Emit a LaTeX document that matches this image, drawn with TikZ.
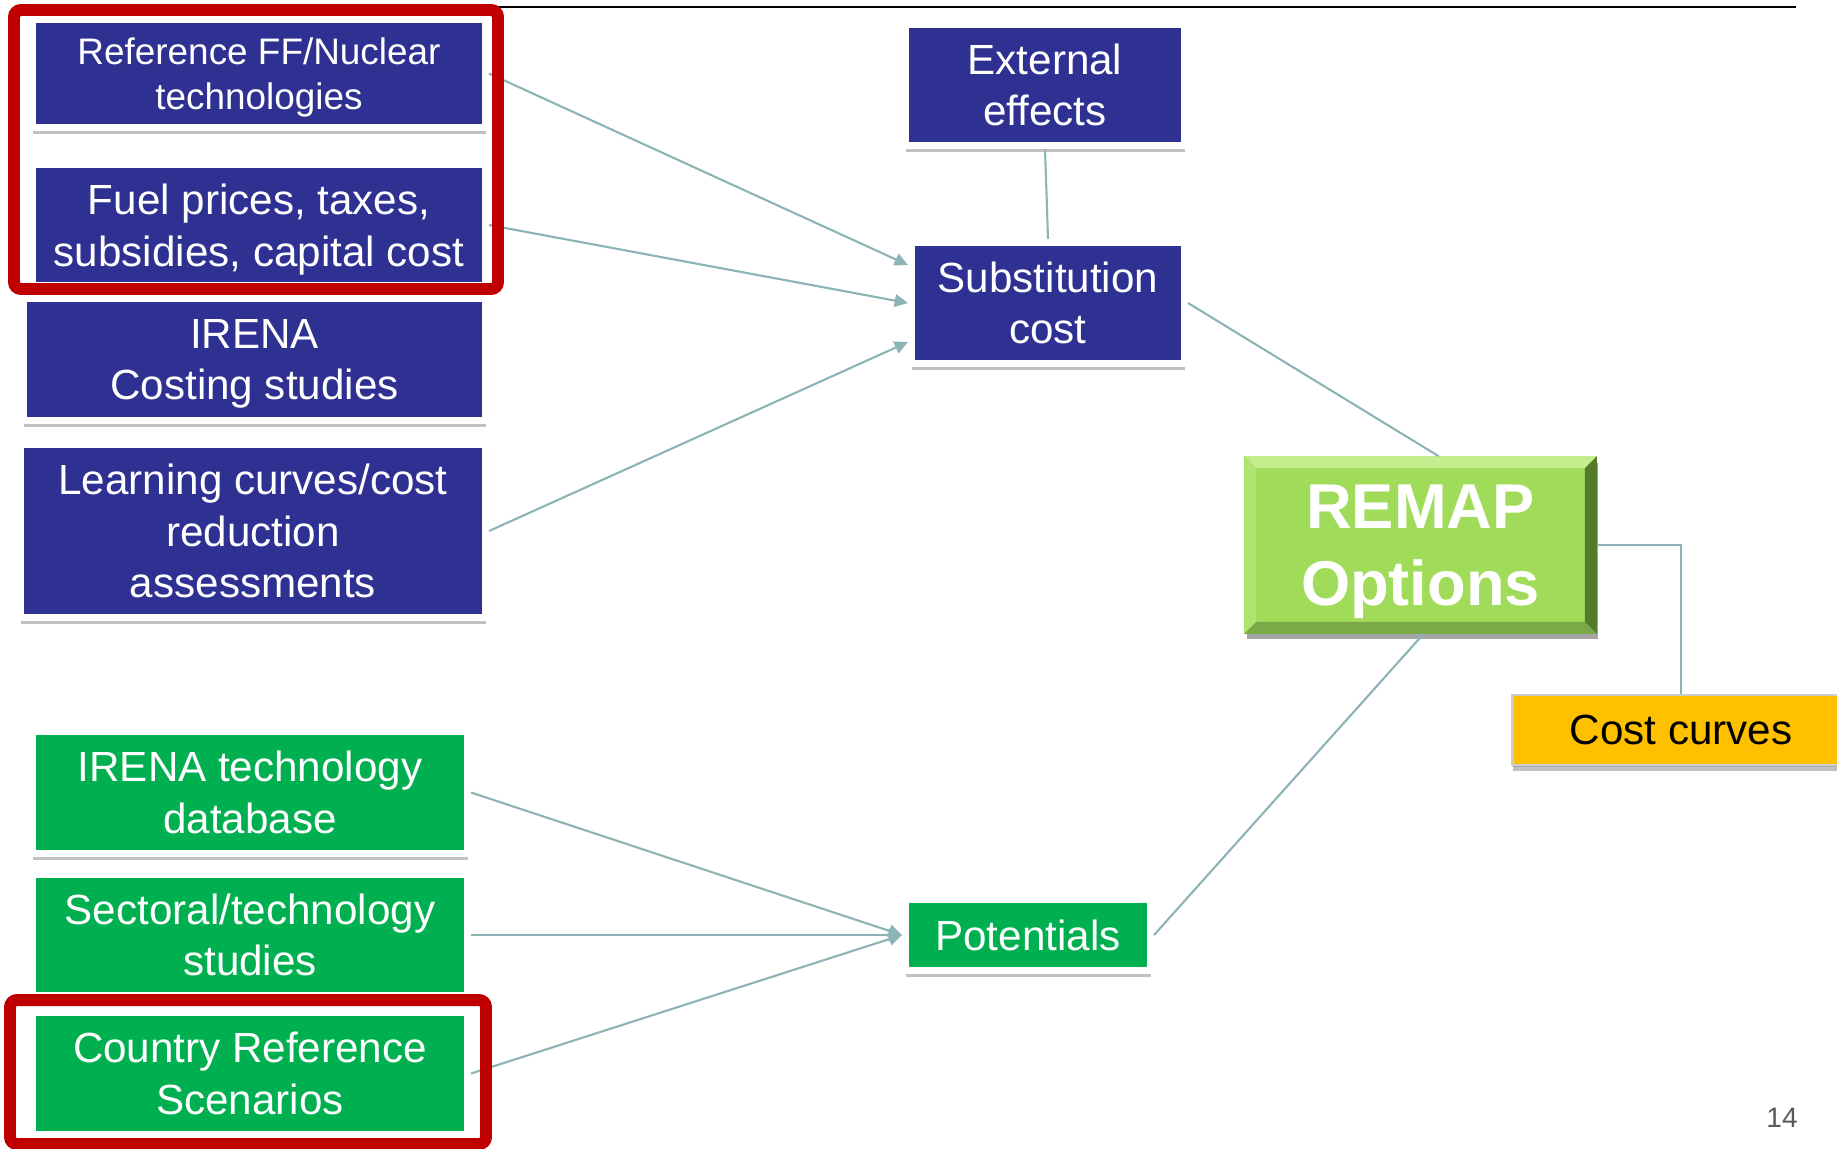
\documentclass[tikz,border=0pt]{standalone}
\usepackage{fontspec}
\setmainfont{Liberation Sans}
\usetikzlibrary{arrows.meta,shadows}

\definecolor{irenablue}{RGB}{46,49,146}
\definecolor{irenagreen}{RGB}{0,176,80}
\definecolor{remapgreen}{RGB}{160,220,90}
\definecolor{remaplight}{RGB}{196,238,142}
\definecolor{remapleft}{RGB}{176,228,112}
\definecolor{remapdark}{RGB}{122,170,72}
\definecolor{remapright}{RGB}{84,122,46}
\definecolor{costyellow}{RGB}{255,192,0}
\definecolor{framered}{RGB}{192,0,0}
\definecolor{linkgray}{RGB}{140,180,182}
\definecolor{pagegray}{RGB}{89,89,89}

\newcommand{\nodepth}[1]{\raisebox{0pt}[\height][0pt]{#1}}

\tikzset{
  box/.style={draw=white,line width=2pt,text=white,align=center,inner sep=0pt,
    font=\fontsize{12}{14.7}\selectfont,
    drop shadow={shadow xshift=0.2pt,shadow yshift=-1.8pt,opacity=0.35,fill=black!70},
    drop shadow={shadow xshift=0pt,shadow yshift=-0.4pt,shadow scale=1.006,opacity=0.18,fill=black!70}},
  bluebox/.style={box,fill=irenablue},
  greenbox/.style={box,fill=irenagreen},
  costbox/.style={box,fill=costyellow,draw=black!20,line width=0.6pt,text=black},
  remapbox/.style={fill=remapgreen,draw=black!35,line width=0.5pt,text=white,align=center,
    inner sep=0pt,font=\fontsize{18}{21.9}\selectfont\bfseries,
    drop shadow={shadow xshift=0.6pt,shadow yshift=-1.6pt,opacity=0.5,fill=black!70}},
  link/.style={draw=linkgray,line width=0.6pt},
  arrowlink/.style={link,-{Triangle[length=3.8pt,width=3.6pt]}},
  redframe/.style={draw=framered,line width=3.4pt,rounded corners=2pt},
}

\begin{document}
\begin{tikzpicture}
  \useasboundingbox (0,0) rectangle (18.37,-11.48);
  \clip (0,0) rectangle (18.37,-11.48);
  \draw[line width=0.6pt] (0.2,-0.07)--(17.96,-0.07); %top rule

  % cost inputs
  \node[bluebox,minimum width=4.53cm,minimum height=1.08cm,font=\fontsize{10.5}{12.6}\selectfont] (reff) at (2.59,-0.735) {Reference FF/Nuclear\\\nodepth{technologies}};
  \node[bluebox,minimum width=4.53cm,minimum height=1.21cm] (fuel) at (2.59,-2.25) {Fuel prices, taxes,\\\nodepth{subsidies, capital cost}};
  \node[bluebox,minimum width=4.62cm,minimum height=1.22cm] (costing) at (2.545,-3.595) {IRENA\\\nodepth{Costing studies}};
  \node[bluebox,minimum width=4.65cm,minimum height=1.73cm] (learning) at (2.53,-5.31) {Learning curves/cost\\reduction\\assessments};

  % potential inputs
  \node[greenbox,minimum width=4.35cm,minimum height=1.22cm] (database) at (2.50,-7.925) {IRENA technology\\database};
  \node[greenbox,minimum width=4.35cm,minimum height=1.21cm] (sectoral) at (2.50,-9.35) {Sectoral/technology\\studies};
  \node[greenbox,minimum width=4.35cm,minimum height=1.22cm] (country) at (2.50,-10.735) {Country Reference\\Scenarios};

  \node[bluebox,minimum width=2.79cm,minimum height=1.21cm] (ext) at (10.45,-0.85) {External\\effects};
  \node[bluebox,minimum width=2.73cm,minimum height=1.21cm] (sub) at (10.48,-3.03) {Substitution\\cost};
  \node[greenbox,minimum width=2.45cm,minimum height=0.71cm] (pot) at (10.28,-9.35) {Potentials};
  \node[costbox,minimum width=3.37cm,minimum height=0.70cm] (cost) at (16.81,-7.30) {Cost curves};

  % REMAP with bevel
  \node[remapbox,minimum width=3.51cm,minimum height=1.76cm] (remap) at (14.205,-5.45) {};
  \fill[remaplight] (remap.north west)--(remap.north east)--([shift={(-0.12,-0.12)}]remap.north east)--([shift={(0.12,-0.12)}]remap.north west)--cycle;
  \fill[remapleft] (remap.north west)--([shift={(0.12,-0.12)}]remap.north west)--([shift={(0.12,0.12)}]remap.south west)--(remap.south west)--cycle;
  \fill[remapdark] (remap.south west)--([shift={(0.12,0.12)}]remap.south west)--([shift={(-0.12,0.12)}]remap.south east)--(remap.south east)--cycle;
  \fill[remapright] (remap.south east)--([shift={(-0.12,0.12)}]remap.south east)--([shift={(-0.12,-0.12)}]remap.north east)--(remap.north east)--cycle;
  \node[text=white,align=center,font=\fontsize{18}{21.9}\selectfont\bfseries] (remaptext) at (remap.center) {REMAP\\\nodepth{Options}};

  % connectors
  \draw[arrowlink] (reff.east)--([yshift=0.38cm]sub.west);
  \draw[arrowlink] (fuel.east)--(sub.west);
  \draw[arrowlink] (learning.east)--([yshift=-0.39cm]sub.west);
  \draw[link] (ext.south)--(sub.north);
  \draw[link] (sub.east)--([xshift=0.18cm]remap.north);
  \draw[link] ([xshift=0.03cm]remap.south)--(pot.east);
  \draw[link] (remap.east)-|(cost.north);
  \draw[arrowlink] (database.east)--(pot.west);
  \draw[arrowlink] (sectoral.east)--(pot.west);
  \draw[arrowlink] (country.east)--(pot.west);

  % highlight frames
  \draw[redframe] (0.14,-0.10) rectangle (4.98,-2.89);
  \draw[redframe] (0.10,-10.00) rectangle (4.86,-11.44);

  \node[text=pagegray,font=\fontsize{8}{9.6}\selectfont] (page) at (17.82,-11.18) {14};
\end{tikzpicture}
\end{document}
